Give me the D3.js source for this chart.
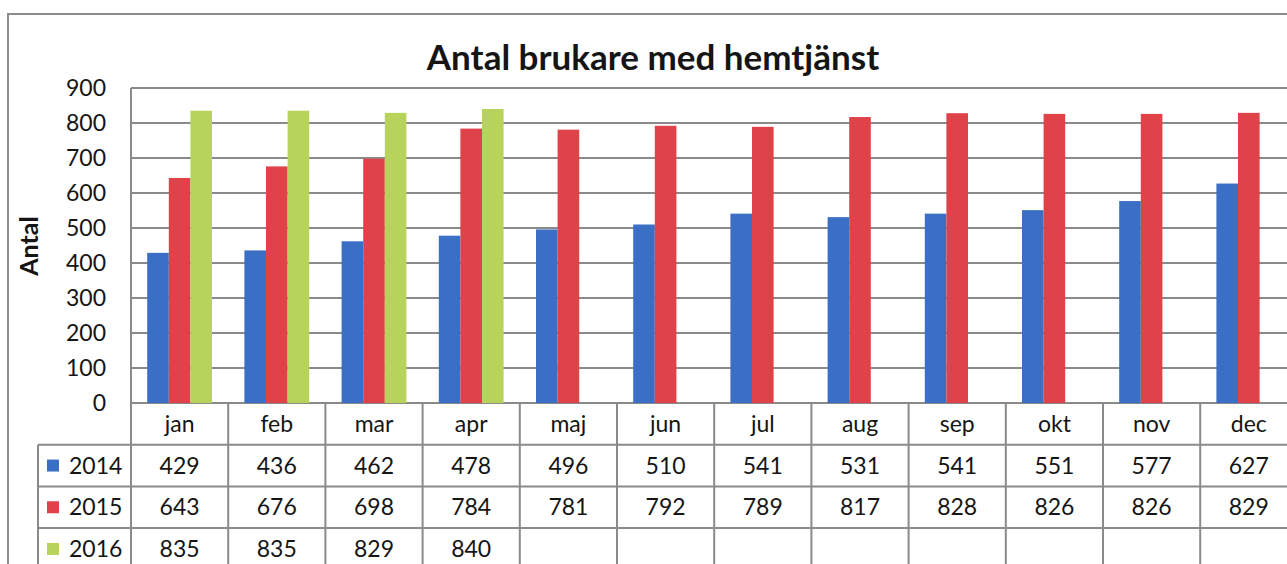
<!DOCTYPE html>
<html>
<head>
<meta charset="utf-8">
<script src="https://cdn.jsdelivr.net/npm/d3@7"></script>
<style>
  body { margin: 0; background: #fff; }
  svg { display: block; font-family: Lato, "Open Sans", sans-serif; }
</style>
</head>
<body>
<div id="chart"></div>
<script>
// data
var months = ["jan", "feb", "mar", "apr", "maj", "jun", "jul", "aug", "sep", "okt", "nov", "dec"];
var years = ["2014", "2015", "2016"];
var v2014 = [429, 436, 462, 478, 496, 510, 541, 531, 541, 551, 577, 627];
var v2015 = [643, 676, 698, 784, 781, 792, 789, 817, 828, 826, 826, 829];
var v2016 = [835, 835, 829, 840];
var yTicks = [0, 100, 200, 300, 400, 500, 600, 700, 800, 900];

var colors = { "2014": "#3b6fc6", "2015": "#e0424a", "2016": "#b8d35c" };
var seriesVals = { "2014": v2014, "2015": v2015, "2016": v2016 };

var W = 1287, H = 564;
var plot = { left: 131, top: 88, bottom: 403, band: 97.2 };
var rowH = 41.7;
var gridColor = "#8a8a8a";
var textColor = "#151515";

var svg = d3.select("#chart").append("svg")
    .attr("width", W)
    .attr("height", H);

// outer chart frame (runs past the right/bottom edge)
svg.append("path")
    .attr("d", "M8," + (H + 5) + " V14 H" + (W + 5))
    .attr("fill", "none")
    .attr("stroke", "#8c8c8c")
    .attr("stroke-width", 2);

var x = d3.scaleBand()
    .domain(months)
    .range([plot.left, plot.left + plot.band * months.length]);

var xs = d3.scaleBand()
    .domain(years)
    .range([0, x.bandwidth()])
    .paddingInner(0)
    .paddingOuter(0.75);

var y = d3.scaleLinear()
    .domain([0, 900])
    .range([plot.bottom, plot.top]);

// gridlines
svg.append("g")
  .selectAll("line")
  .data(yTicks)
  .enter().append("line")
    .attr("x1", plot.left)
    .attr("x2", W + 5)
    .attr("y1", d => y(d))
    .attr("y2", d => y(d))
    .attr("stroke", gridColor)
    .attr("stroke-width", 2);

// y axis labels
var yAxis = d3.axisLeft(y).tickValues(yTicks).tickSize(0).tickPadding(25);
var gy = svg.append("g")
    .attr("transform", "translate(" + plot.left + ",0)")
    .call(yAxis);
gy.select(".domain").remove();
gy.selectAll("text")
    .style("font-family", "Lato, 'Open Sans', sans-serif")
    .style("font-size", "23px")
    .attr("fill", textColor);

// bars
var barData = [];
years.forEach(function (yr) {
    seriesVals[yr].forEach(function (v, i) {
        barData.push({ year: yr, month: months[i], value: v });
    });
});

svg.append("g")
  .selectAll("rect")
  .data(barData)
  .enter().append("rect")
    .attr("x", d => x(d.month) + xs(d.year))
    .attr("y", d => y(d.value))
    .attr("width", xs.bandwidth())
    .attr("height", d => y(0) - y(d.value))
    .attr("fill", d => colors[d.year]);

// data table
var tableTop = plot.bottom;
var legendLeft = 38;
var table = svg.append("g");

// horizontal lines of the table
[1, 2, 3].forEach(function (r) {
    table.append("line")
        .attr("x1", legendLeft)
        .attr("x2", W + 5)
        .attr("y1", tableTop + r * rowH)
        .attr("y2", tableTop + r * rowH)
        .attr("stroke", gridColor)
        .attr("stroke-width", 2);
});

// vertical lines at category boundaries
var bounds = months.map(m => x(m)).concat([x.range()[1]]);
table.selectAll("line.v")
  .data(bounds)
  .enter().append("line")
    .attr("class", "v")
    .attr("x1", d => d)
    .attr("x2", d => d)
    .attr("y1", (d, i) => i === 0 ? plot.top : tableTop)
    .attr("y2", H + 5)
    .attr("stroke", gridColor)
    .attr("stroke-width", 2);

table.append("line")
    .attr("x1", legendLeft)
    .attr("x2", legendLeft)
    .attr("y1", tableTop + rowH)
    .attr("y2", H + 5)
    .attr("stroke", gridColor)
    .attr("stroke-width", 2);

// month header
table.selectAll("text.month")
  .data(months)
  .enter().append("text")
    .attr("class", "month")
    .attr("x", d => x(d) + x.bandwidth() / 2)
    .attr("y", tableTop + rowH / 2)
    .attr("dy", "0.35em")
    .attr("text-anchor", "middle")
    .style("font-size", "23px")
    .attr("fill", textColor)
    .text(d => d);

// rows
years.forEach(function (yr, r) {
    var cy = tableTop + (r + 1.5) * rowH;
    table.append("rect")
        .attr("x", 47)
        .attr("y", cy - 6)
        .attr("width", 12)
        .attr("height", 12)
        .attr("fill", colors[yr]);
    table.append("text")
        .attr("x", 69)
        .attr("y", cy)
        .attr("dy", "0.35em")
        .style("font-size", "23px")
        .attr("fill", textColor)
        .text(yr);
    table.selectAll("text.val" + yr)
      .data(seriesVals[yr])
      .enter().append("text")
        .attr("class", "val" + yr)
        .attr("x", (d, i) => x(months[i]) + x.bandwidth() / 2)
        .attr("y", cy)
        .attr("dy", "0.35em")
        .attr("text-anchor", "middle")
        .style("font-size", "23px")
        .attr("fill", textColor)
        .text(d => d);
});

// title
svg.append("text")
    .attr("x", 653)
    .attr("y", 70)
    .attr("text-anchor", "middle")
    .style("font-size", "35px")
    .style("font-weight", "bold")
    .attr("fill", textColor)
    .text("Antal brukare med hemtjänst");

// y axis title
svg.append("text")
    .attr("transform", "translate(38,246) rotate(-90)")
    .attr("text-anchor", "middle")
    .style("font-size", "25px")
    .style("font-weight", "bold")
    .attr("fill", textColor)
    .text("Antal");
</script>
</body>
</html>
